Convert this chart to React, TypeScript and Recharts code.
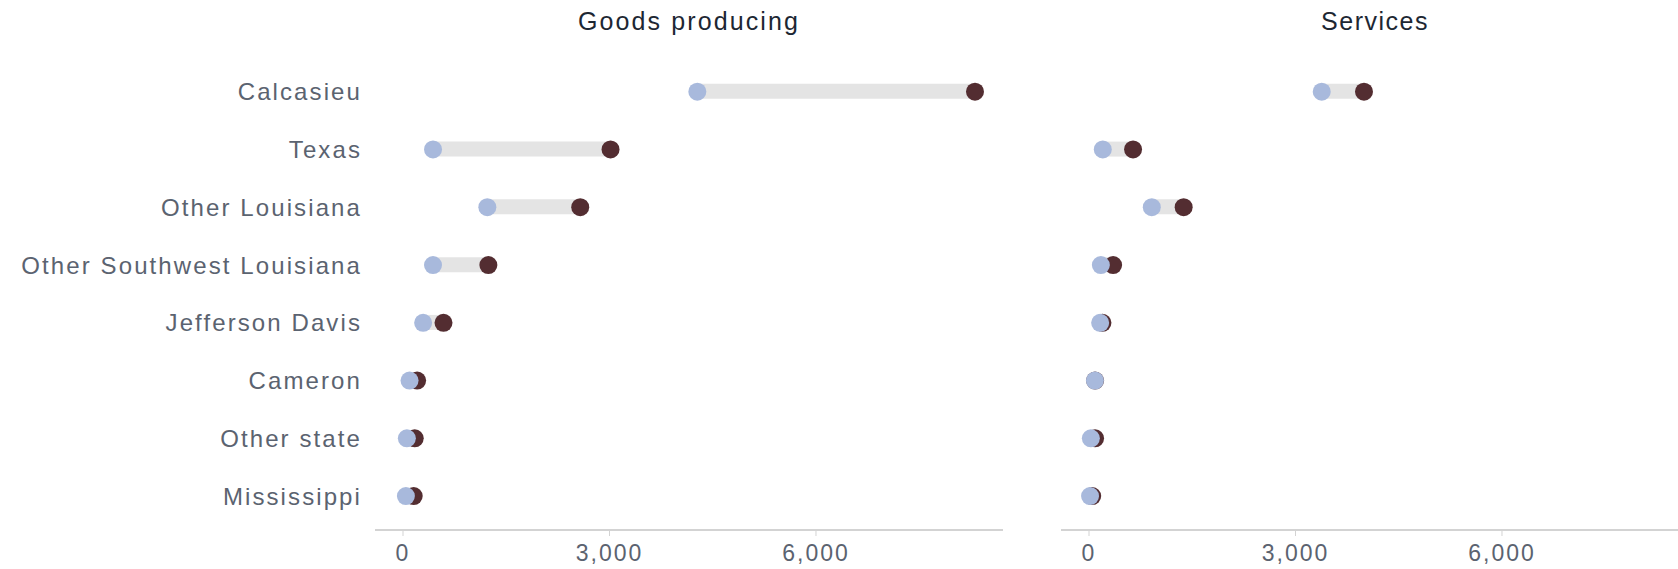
import { ComposedChart, Bar, Line, XAxis, YAxis } from "recharts";

const categories = [
  "Calcasieu",
  "Texas",
  "Other Louisiana",
  "Other Southwest Louisiana",
  "Jefferson Davis",
  "Cameron",
  "Other state",
  "Mississippi",
];

// light blue dots and dark maroon dots, per panel
const goodsBlue = [4276, 436, 1225, 436, 292, 95, 56, 42];
const goodsMaroon = [8310, 3015, 2575, 1240, 588, 205, 170, 155];
const servicesBlue = [3381, 200, 912, 172, 162, 86, 27, 15];
const servicesMaroon = [3995, 640, 1375, 350, 195, 88, 88, 46];

const xTicks = [0, 3000, 6000];
const xDomain = [-407, 8717];

const BLUE = "#a8b9dc";
const MAROON = "#532d31";
const GREY_BAR = "#e4e4e4";
const AXIS = "#d3d3d3";
const LABEL = "#5b6370";
const FONT = "'Liberation Sans', Arial, sans-serif";

const build = (blue: number[], maroon: number[]) =>
  categories.map((name, i) => ({
    name,
    blue: blue[i],
    maroon: maroon[i],
    range: [Math.min(blue[i], maroon[i]), Math.max(blue[i], maroon[i])],
  }));

const goodsData = build(goodsBlue, goodsMaroon);
const servicesData = build(servicesBlue, servicesMaroon);

const xTickStyle = { fontSize: 23, fill: LABEL, fontFamily: FONT, letterSpacing: 2 };
const yTickStyle = { fontSize: 24, fill: LABEL, fontFamily: FONT, letterSpacing: 2.1 };

const Panel = ({ data, showLabels, width }: { data: any[]; showLabels: boolean; width: number }) => (
  <ComposedChart
    width={width}
    height={569}
    data={data}
    layout="vertical"
    margin={{ top: 62.8, right: 0, bottom: 0, left: 0 }}
  >
    <XAxis
      type="number"
      domain={xDomain}
      ticks={xTicks}
      allowDataOverflow
      height={39}
      tickSize={6}
      tickMargin={9}
      axisLine={{ stroke: AXIS, strokeWidth: 2 }}
      tickLine={{ stroke: AXIS }}
      tick={xTickStyle}
      tickFormatter={(v) => v.toLocaleString("en-US")}
    />
    <YAxis
      type="category"
      dataKey="name"
      width={showLabels ? 375 : 0}
      hide={!showLabels}
      axisLine={false}
      tickLine={false}
      tickSize={0}
      tickMargin={13}
      interval={0}
      padding={{ top: 0, bottom: 5 }}
      tick={yTickStyle}
    />
    <Bar dataKey="range" barSize={15} fill={GREY_BAR} isAnimationActive={false} />
    <Line
      dataKey="maroon"
      stroke="none"
      dot={{ r: 9, fill: MAROON, stroke: "none", strokeWidth: 0 }}
      activeDot={false}
      isAnimationActive={false}
    />
    <Line
      dataKey="blue"
      stroke="none"
      dot={{ r: 9, fill: BLUE, stroke: "none", strokeWidth: 0 }}
      activeDot={false}
      isAnimationActive={false}
    />
  </ComposedChart>
);

const titleStyle = {
  position: "absolute" as const,
  top: 9,
  width: 628,
  textAlign: "center" as const,
  fontSize: 25,
  lineHeight: "25px",
  letterSpacing: 2.1,
  color: "#1d2733",
  fontFamily: FONT,
};

export default function App() {
  return (
    <div
      style={{
        position: "absolute",
        left: 0,
        top: 0,
        width: 1678,
        height: 569,
        overflow: "hidden",
        background: "#fff",
      }}
    >
      <div style={{ ...titleStyle, left: 375 }}>Goods producing</div>
      <div style={{ ...titleStyle, left: 1061, letterSpacing: 1.5 }}>Services</div>
      <div style={{ position: "absolute", left: 0, top: 0 }}>
        <Panel data={goodsData} showLabels width={1003} />
      </div>
      <div style={{ position: "absolute", left: 1061, top: 0 }}>
        <Panel data={servicesData} showLabels={false} width={628} />
      </div>
    </div>
  );
}
